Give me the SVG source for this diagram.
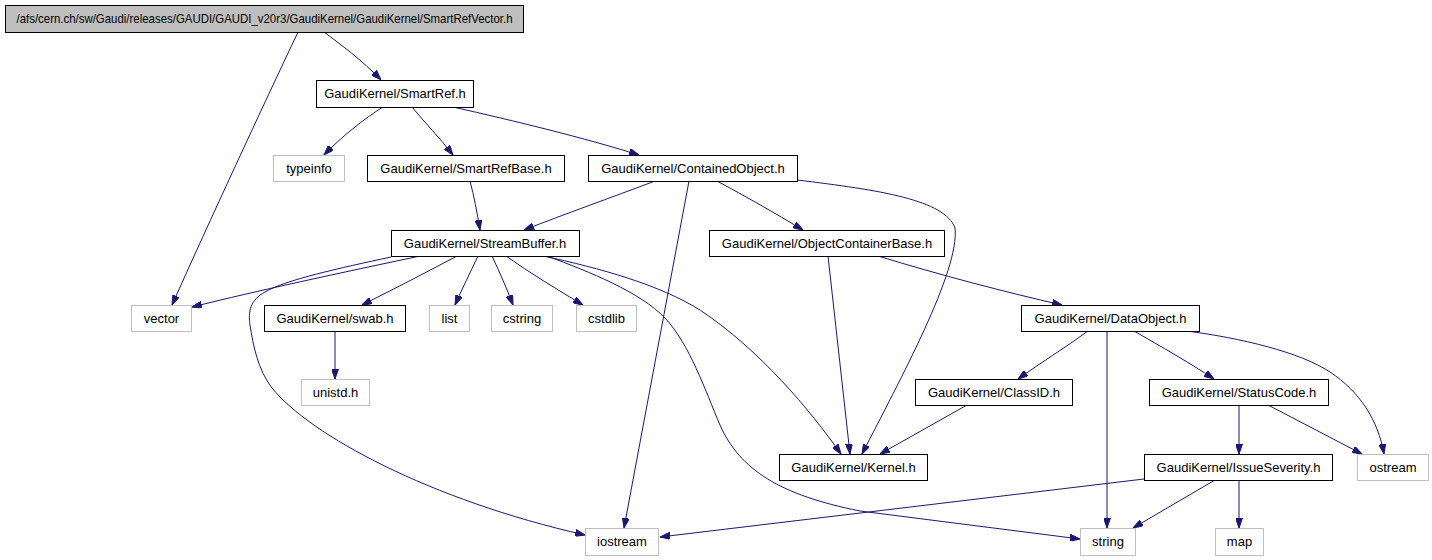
<svg xmlns="http://www.w3.org/2000/svg" width="1432" height="560" viewBox="0 0 1432 560">
<defs>
<style>
.n rect{fill:#ffffff;stroke:#000000;stroke-width:1}
.g rect{fill:#ffffff;stroke:#bfbfbf;stroke-width:1}
.root rect{fill:#bfbfbf;stroke:#000000;stroke-width:1}
text{font-family:"Liberation Sans",Arial,Helvetica,sans-serif;font-size:13px;fill:#000000;text-anchor:middle}
#edges path{fill:none;stroke:#191970;stroke-width:1}
</style>
<marker id="ah" viewBox="0 0 10 7" refX="10" refY="3.5" markerWidth="10" markerHeight="7" markerUnits="userSpaceOnUse" orient="auto">
<path d="M0,0 L10,3.5 L0,7 z" fill="#191970" stroke="#191970" stroke-width="1"/>
</marker>
</defs>
<rect x="0" y="0" width="1432" height="560" fill="#ffffff"/>
<g id="edges">
<path marker-end="url(#ah)" d="M324,32 C340,44 362,60 381,80"/>
<path marker-end="url(#ah)" d="M298,32 C262,108 210,220 172,305"/>
<path marker-end="url(#ah)" d="M383,107 C365,118 340,138 324,155"/>
<path marker-end="url(#ah)" d="M412,107 C424,122 440,138 453,155"/>
<path marker-end="url(#ah)" d="M453,107 C515,121 585,138 639,155"/>
<path marker-end="url(#ah)" d="M470,181 C474,196 477,212 480,230"/>
<path marker-end="url(#ah)" d="M655,181 C610,198 565,214 524,230"/>
<path marker-end="url(#ah)" d="M689,181 L624,528"/>
<path marker-end="url(#ah)" d="M717,181 C745,196 775,213 803,230"/>
<path marker-end="url(#ah)" d="M797,180 C880,190 945,200 955,228 C960,270 900,380 862,454"/>
<path marker-end="url(#ah)" d="M420,256 C340,273 260,290 192,307"/>
<path marker-end="url(#ah)" d="M391,257 C340,268 285,280 265,292 C250,300 248,312 250,325 C253,345 258,370 272,388 C310,435 430,500 585,535"/>
<path marker-end="url(#ah)" d="M457,256 C425,273 392,290 362,305"/>
<path marker-end="url(#ah)" d="M478,256 C470,273 462,289 455,305"/>
<path marker-end="url(#ah)" d="M492,256 C500,273 507,289 513,305"/>
<path marker-end="url(#ah)" d="M506,256 C530,273 558,290 583,305"/>
<path marker-end="url(#ah)" d="M543,256 C600,268 660,285 700,310 C760,350 810,410 841,454"/>
<path marker-end="url(#ah)" d="M547,256 C590,272 640,292 665,318 C690,345 705,390 720,425 C740,470 780,495 860,511 L1080,539"/>
<path marker-end="url(#ah)" d="M335,331 L335,379"/>
<path marker-end="url(#ah)" d="M828,256 L850,454"/>
<path marker-end="url(#ah)" d="M878,256 C940,275 1005,292 1062,305"/>
<path marker-end="url(#ah)" d="M1088,331 C1065,348 1040,363 1018,379"/>
<path marker-end="url(#ah)" d="M1107,331 L1107,528"/>
<path marker-end="url(#ah)" d="M1134,331 C1160,346 1190,363 1214,379"/>
<path marker-end="url(#ah)" d="M1187,331 C1240,338 1300,352 1330,372 C1360,392 1378,420 1384,454"/>
<path marker-end="url(#ah)" d="M967,405 L880,454"/>
<path marker-end="url(#ah)" d="M1239,405 L1239,454"/>
<path marker-end="url(#ah)" d="M1268,405 L1362,454"/>
<path marker-end="url(#ah)" d="M1144,479 L660,537"/>
<path marker-end="url(#ah)" d="M1215,480 L1133,528"/>
<path marker-end="url(#ah)" d="M1239,480 L1239,528"/>
</g>
<g id="n_root" class="root"><rect x="5.5" y="5.5" width="518" height="27"/><text x="264.5" y="23" textLength="496" lengthAdjust="spacingAndGlyphs">/afs/cern.ch/sw/Gaudi/releases/GAUDI/GAUDI_v20r3/GaudiKernel/GaudiKernel/SmartRefVector.h</text></g>
<g id="n_smartref" class="n"><rect x="316.5" y="80.5" width="157" height="27"/><text x="395" y="98">GaudiKernel/SmartRef.h</text></g>
<g id="n_typeinfo" class="g"><rect x="273.5" y="155.5" width="71" height="26"/><text x="309" y="173">typeinfo</text></g>
<g id="n_smartrefbase" class="n"><rect x="367.5" y="155.5" width="197" height="26"/><text x="466" y="173">GaudiKernel/SmartRefBase.h</text></g>
<g id="n_containedobject" class="n"><rect x="588.5" y="155.5" width="209" height="26"/><text x="693" y="173">GaudiKernel/ContainedObject.h</text></g>
<g id="n_streambuffer" class="n"><rect x="391.5" y="230.5" width="188" height="26"/><text x="485" y="248">GaudiKernel/StreamBuffer.h</text></g>
<g id="n_objectcontainerbase" class="n"><rect x="709.5" y="230.5" width="235" height="26"/><text x="827" y="248">GaudiKernel/ObjectContainerBase.h</text></g>
<g id="n_vector" class="g"><rect x="131.5" y="305.5" width="60" height="26"/><text x="161.5" y="323">vector</text></g>
<g id="n_swab" class="n"><rect x="264.5" y="305.5" width="141" height="26"/><text x="335" y="323">GaudiKernel/swab.h</text></g>
<g id="n_list" class="g"><rect x="429.5" y="305.5" width="40" height="26"/><text x="449.5" y="323">list</text></g>
<g id="n_cstring" class="g"><rect x="491.5" y="305.5" width="61" height="26"/><text x="522" y="323">cstring</text></g>
<g id="n_cstdlib" class="g"><rect x="576.5" y="305.5" width="60" height="26"/><text x="606.5" y="323">cstdlib</text></g>
<g id="n_dataobject" class="n"><rect x="1021.5" y="305.5" width="178" height="26"/><text x="1110.5" y="323">GaudiKernel/DataObject.h</text></g>
<g id="n_unistd" class="g"><rect x="301.5" y="379.5" width="68" height="26"/><text x="335.5" y="397">unistd.h</text></g>
<g id="n_classid" class="n"><rect x="915.5" y="379.5" width="157" height="26"/><text x="994" y="397">GaudiKernel/ClassID.h</text></g>
<g id="n_statuscode" class="n"><rect x="1149.5" y="379.5" width="179" height="26"/><text x="1239" y="397">GaudiKernel/StatusCode.h</text></g>
<g id="n_kernel" class="n"><rect x="779.5" y="454.5" width="148" height="26"/><text x="853.5" y="472">GaudiKernel/Kernel.h</text></g>
<g id="n_issueseverity" class="n"><rect x="1144.5" y="454.5" width="188" height="26"/><text x="1238.5" y="472">GaudiKernel/IssueSeverity.h</text></g>
<g id="n_ostream" class="g"><rect x="1357.5" y="454.5" width="71" height="26"/><text x="1393" y="472">ostream</text></g>
<g id="n_iostream" class="g"><rect x="585.5" y="528.5" width="73" height="27"/><text x="622" y="546">iostream</text></g>
<g id="n_string" class="g"><rect x="1080.5" y="528.5" width="55" height="27"/><text x="1108" y="546">string</text></g>
<g id="n_map" class="g"><rect x="1215.5" y="528.5" width="48" height="27"/><text x="1239.5" y="546">map</text></g>
</svg>
